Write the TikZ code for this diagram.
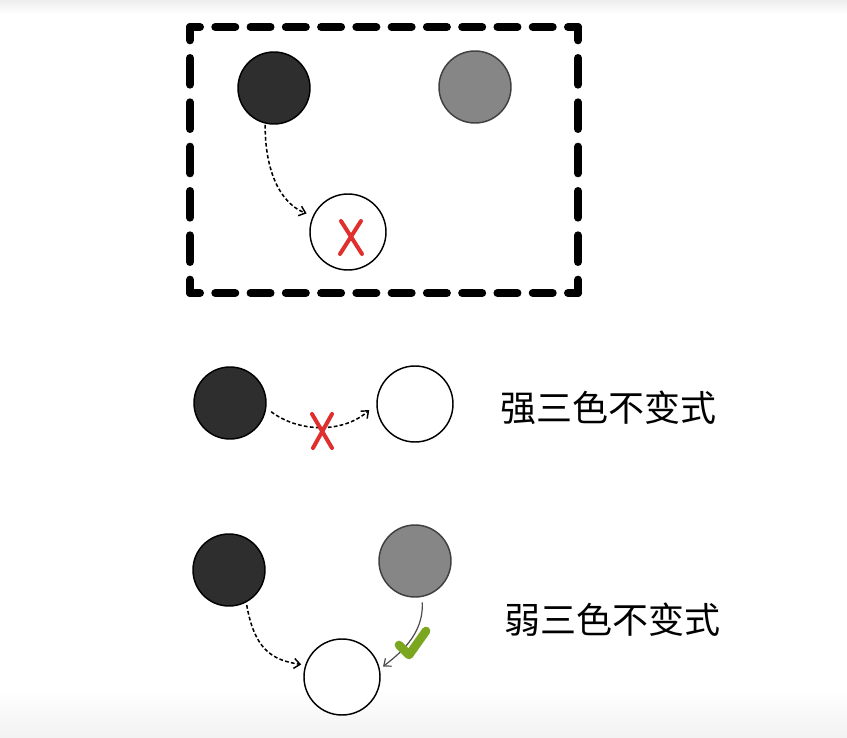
\documentclass[tikz,border=0pt]{standalone}
\usepackage{fontspec}
\newfontfamily\cjk{Noto Sans CJK SC}
\usetikzlibrary{arrows.meta,calc}
\definecolor{blackball}{HTML}{2E2E2E}
\definecolor{grayball}{HTML}{868686}
\definecolor{xred}{HTML}{E0302E}
\definecolor{okgreen}{HTML}{7AA620}
\begin{document}
\begin{tikzpicture}[x=0.75pt,y=-0.75pt,
  ball/.style={circle,draw=black,line width=1.1pt,minimum size=54pt,inner sep=0pt},
  blackb/.style={ball,fill=blackball},
  grayb/.style={ball,fill=grayball,draw=black!75},
  whiteb/.style={ball,fill=white,minimum size=57pt},
  boxtop/.style={line width=6pt,line cap=round,dash pattern=on 15pt off 11.4545pt,dash phase=7.5pt},
  boxside/.style={line width=6pt,line cap=round,dash pattern=on 20pt off 13.25pt,dash phase=10pt},
  darr/.style={line width=1.15pt,dash pattern=on 2.8pt off 1.7pt,-{Straight Barb[length=4.5pt,width=7.5pt,line width=1.1pt]}},
  sarr/.style={line width=0.9pt,draw=black!70,-{Straight Barb[length=4.5pt,width=7.5pt,line width=0.9pt]}},
  xmark/.style={draw=xred,line width=3pt,line cap=round},
  check/.style={draw=okgreen,line width=6.5pt,line cap=round,line join=round},
  label/.style={font=\cjk\fontsize{27pt}{30pt}\selectfont,inner sep=0pt}
]
\useasboundingbox (0,0) rectangle (847,738);
\fill[top color=black!7,bottom color=white] (0,0) rectangle (847,14);
\fill[top color=white,bottom color=black!5] (0,690) rectangle (847,738);

% dashed frame
\coordinate (tl) at (190,27);
\coordinate (tr) at (578,27);
\coordinate (br) at (578,293);
\coordinate (bl) at (190,293);
\draw[boxtop] (tl) -- (tr);
\draw[boxtop] (bl) -- (br);
\draw[boxside] (tl) -- (bl);
\draw[boxside] (tr) -- (br);

% top group
\node[blackb] (b1) at (274,88) {};
\node[grayb] (g1) at (475,87) {};
\node[whiteb] (w1) at (348,232) {};
\draw[darr,shorten <=1pt,shorten >=5pt] (b1.-104) .. controls +(0,55) and +(-28,-10) .. (w1.155);
\coordinate (x1) at (351,237);
\draw[xmark] ($(x1)+(-10,-16)$) -- ($(x1)+(11,17)$);
\draw[xmark] ($(x1)+(10,-16)$) -- ($(x1)+(-11,17)$);

% middle group
\node[blackb] (b2) at (230,403) {};
\node[whiteb] (w2) at (415,404) {};
\draw[darr,shorten <=4.5pt,shorten >=7pt] (b2.-8) .. controls (298,432) and (342,434) .. (w2.180);
\coordinate (x2) at (322,431);
\draw[xmark] ($(x2)+(-10,-17)$) -- ($(x2)+(10,17)$);
\draw[xmark] ($(x2)+(10,-17)$) -- ($(x2)+(-9,17)$);
\node[label] (t1) at (608,408) {强三色不变式};

% bottom group
\node[blackb] (b3) at (229,570) {};
\node[grayb] (g3) at (415,561) {};
\node[whiteb] (w3) at (342,677) {};
\draw[darr,shorten <=2pt,shorten >=3pt] (b3.-62) .. controls +(8,45) and +(-35,-5) .. (w3.162);
\draw[sarr,shorten <=4pt,shorten >=3pt] (g3.-79) .. controls +(2,38) and +(18,-14) .. (w3.12);
\coordinate (c1) at (399,645);
\coordinate (c2) at (409,655);
\coordinate (c3) at (426,631);
\draw[check] (c1) -- (c2) -- (c3);
\node[label] (t2) at (612,620) {弱三色不变式};
\end{tikzpicture}
\end{document}
